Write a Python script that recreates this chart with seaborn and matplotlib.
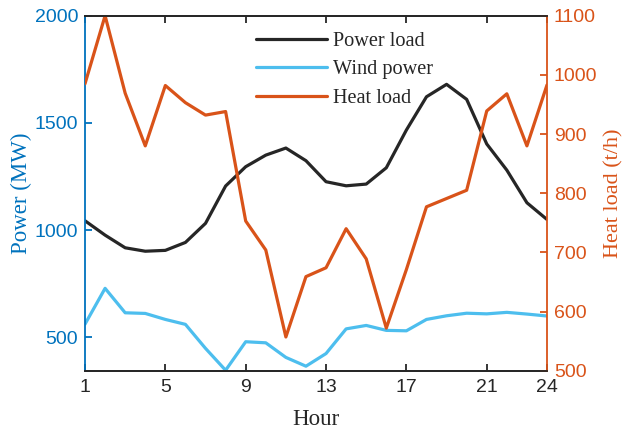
import numpy as np
import pandas as pd
import matplotlib
matplotlib.use("Agg")
import matplotlib.pyplot as plt
import seaborn as sns
from matplotlib.lines import Line2D

hours = list(range(1, 25))
power_load = [1044, 977, 918, 902, 906, 943, 1032, 1206, 1296, 1350, 1383, 1324,
              1226, 1207, 1215, 1291, 1467, 1622, 1680, 1610, 1402, 1280, 1128, 1050]
wind_power = [562, 729, 615, 612, 584, 561, 449, 347, 480, 475, 407, 366,
              425, 540, 556, 533, 531, 584, 601, 613, 610, 617, 609, 600]
heat_load = [985, 1100, 969, 880, 982, 953, 932, 938, 753, 704, 557, 659,
             674, 740, 689, 572, 671, 777, 791, 805, 939, 968, 880, 983]
x_ticks = [1, 5, 9, 13, 17, 21, 24]
left_ticks = [500, 1000, 1500, 2000]
right_ticks = [500, 600, 700, 800, 900, 1000, 1100]

sns.set_theme(style="white")
plt.rcParams['font.family'] = ['Liberation Sans', 'DejaVu Sans']

C_BLUE_AX = "#0072BD"
C_ORANGE = "#D95319"
C_BLACK = "#262626"
C_WIND = "#4DBEEE"
serif = ['Liberation Serif', 'DejaVu Serif']

df = pd.DataFrame({"Hour": hours, "Power load": power_load,
                   "Wind power": wind_power, "Heat load": heat_load})

fig = plt.figure(figsize=(6.26, 4.34), dpi=100)
ax = fig.add_axes([85/626, 1-370.7/434, (547-85)/626, (370.7-15.7)/434])
ax2 = ax.twinx()

lw = 2.3
sns.lineplot(data=df, x="Hour", y="Power load", ax=ax, color=C_BLACK, lw=lw)
sns.lineplot(data=df, x="Hour", y="Wind power", ax=ax, color=C_WIND, lw=lw)
sns.lineplot(data=df, x="Hour", y="Heat load", ax=ax2, color=C_ORANGE, lw=lw)

ax.set_xlim(1, 24)
ax.set_ylim(345, 2000)
ax2.set_ylim(500, 1100)
ax.set_xticks(x_ticks)
ax.set_yticks(left_ticks)
ax2.set_yticks(right_ticks)

for a in (ax, ax2):
    for s in a.spines.values():
        s.set_linewidth(1.3)
        s.set_visible(True)
ax.spines['left'].set_color(C_BLUE_AX)
ax.spines['right'].set_visible(False)
ax2.spines['left'].set_visible(False)
ax2.spines['right'].set_color(C_ORANGE)
ax.spines['top'].set_color(C_BLACK)
ax.spines['bottom'].set_color(C_BLACK)
ax2.spines['top'].set_color(C_BLACK)
ax2.spines['bottom'].set_color(C_BLACK)

ax.tick_params(axis='x', direction='in', length=5, width=1.3, colors=C_BLACK,
               labelcolor=C_BLACK, labelsize=14, top=True, bottom=True, pad=6)
ax.tick_params(axis='y', direction='in', length=5, width=1.3, colors=C_BLUE_AX,
               labelcolor=C_BLUE_AX, labelsize=14, left=True, right=False, pad=5)
ax2.tick_params(axis='y', direction='in', length=5, width=1.3, colors=C_ORANGE,
                labelcolor=C_ORANGE, labelsize=14, right=True, left=False, pad=5)

ax.set_xlabel("Hour", fontsize=16.5, family=serif, color=C_BLACK, labelpad=9)
ax.set_ylabel("Power (MW)", fontsize=16.5, family=serif, color=C_BLUE_AX, labelpad=2)
ax2.set_ylabel("Heat load (t/h)", fontsize=16, family=serif, color=C_ORANGE, labelpad=5)

handles = [Line2D([], [], color=C_BLACK, lw=lw),
           Line2D([], [], color=C_WIND, lw=lw),
           Line2D([], [], color=C_ORANGE, lw=lw)]
leg = ax2.legend(handles, ["Power load", "Wind power", "Heat load"],
                 loc='upper left', bbox_to_anchor=(0.331, 1.006), frameon=False,
                 prop={'family': serif, 'size': 14.6}, handlelength=3.5,
                 handletextpad=0.3, labelspacing=0.45)

fig.savefig("out.png", dpi=100)
